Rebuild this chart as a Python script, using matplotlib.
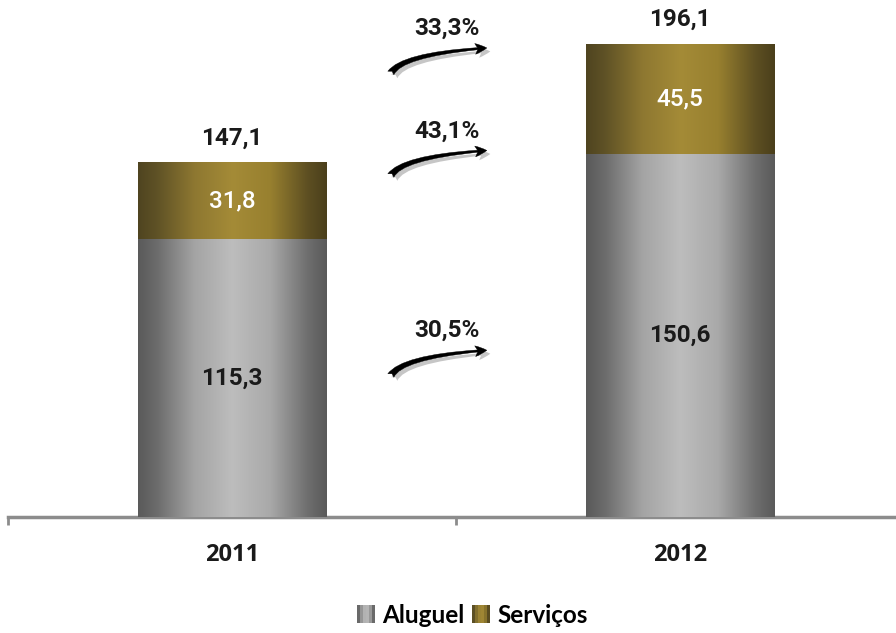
import numpy as np
import matplotlib
matplotlib.use("Agg")
import matplotlib.pyplot as plt
from matplotlib.patches import FancyArrowPatch, Rectangle
from matplotlib.legend_handler import HandlerBase
from matplotlib.colors import LinearSegmentedColormap
import matplotlib.patheffects as pe

# --- data -------------------------------------------------------------
years = ["2011", "2012"]
aluguel = [115.3, 150.6]
servicos = [31.8, 45.5]
totals = [147.1, 196.1]
series_names = ["Aluguel", "Serviços"]

# growth 2011 -> 2012: (label, arrow start y, arrow end y)
growth_labels = ["30,5%", "43,1%", "33,3%"]
growth_arrow_y = [(57.6, 69.2), (140.5, 152.0), (183.0, 194.5)]

def br(v):
    return f"{v:.1f}".replace(".", ",")

# --- colours: cylinder-like horizontal shading -------------------------
stops = [0.0, 0.1, 0.3, 0.5, 0.7, 0.9, 1.0]
gray_cmap = LinearSegmentedColormap.from_list(
    "gray_cyl", list(zip(stops, ["#5a5a5a", "#6c6c6c", "#a4a4a4", "#bdbdbd",
                                 "#a9a9a9", "#6e6e6e", "#5a5a5a"])))
gold_cmap = LinearSegmentedColormap.from_list(
    "gold_cyl", list(zip(stops, ["#4f4420", "#5f5226", "#8e7831", "#a48b37",
                                 "#98802f", "#5d4f22", "#4a3f1b"])))
grad = np.linspace(0, 1, 256)[np.newaxis, :]

fig = plt.figure(figsize=(8.96, 6.33), dpi=100)
ax = fig.add_axes([8 / 896, 116 / 633, 896 / 896, 517 / 633])

x = np.arange(len(years))
width = 0.42
ymax = 214.3

bars_a = ax.bar(x, aluguel, width, color="#a0a0a0", zorder=2)
bars_s = ax.bar(x, servicos, width, bottom=aluguel, color="#8c7630", zorder=2)

for bars, cmap in ((bars_a, gray_cmap), (bars_s, gold_cmap)):
    for b in bars:
        x0, y0 = b.get_x(), b.get_y()
        im = ax.imshow(grad, cmap=cmap, aspect="auto",
                       extent=(x0, x0 + b.get_width(), y0, y0 + b.get_height()),
                       zorder=3, interpolation="bicubic")
        im.set_clip_path(b)

num_font = "Roboto"
fs = 17.5
for i in range(len(years)):
    ax.text(x[i], aluguel[i] / 2, br(aluguel[i]), ha="center", va="center",
            fontsize=fs, fontweight="bold", color="#1a1a1a", family=num_font, zorder=5)
    ax.text(x[i], aluguel[i] + servicos[i] / 2, br(servicos[i]), ha="center",
            va="center", fontsize=fs, fontweight="medium", color="white",
            family=num_font, zorder=5)
    ax.annotate(br(totals[i]), (x[i], totals[i]), xytext=(0, 17.5),
                textcoords="offset points", ha="center", va="center",
                fontsize=fs, fontweight="bold", color="#1a1a1a", family=num_font)

# growth arrows between the two years: steep start, flat finish
x_start, x_end = 0.352, 0.575
for lab, (ys, ye) in zip(growth_labels, growth_arrow_y):
    arr = FancyArrowPatch((x_start, ys), (x_end, ye),
                          connectionstyle="angle3,angleA=72,angleB=4",
                          arrowstyle="fancy,head_length=0.6,head_width=0.55,tail_width=0.36",
                          mutation_scale=14, color="black", lw=0.3, zorder=6,
                          path_effects=[pe.withSimplePatchShadow(offset=(2.5, -2.5),
                                                                 shadow_rgbFace="#a0a0a0",
                                                                 alpha=0.6)])
    ax.add_patch(arr)
    ax.annotate(lab, ((x_start + x_end) / 2, ye), xytext=(5, 14),
                textcoords="offset points", ha="center", va="center",
                fontsize=fs, fontweight="bold", color="#1a1a1a", family=num_font)

# axes styling
ax.set_xlim(-0.5, 1.5)
ax.set_ylim(0, ymax)
for s in ("top", "right", "left"):
    ax.spines[s].set_visible(False)
ax.spines["bottom"].set_color("#8c8c8c")
ax.spines["bottom"].set_linewidth(2.5)
ax.set_yticks([])
ax.set_xticks(x)
ax.set_xticklabels(years, fontsize=17, fontweight="bold", family="Open Sans",
                   color="#1a1a1a")
ax.tick_params(axis="x", which="major", length=0, pad=19)
ax.set_xticks([-0.5, 0.5, 1.5], minor=True)
ax.tick_params(axis="x", which="minor", length=6, width=2, color="#8c8c8c")
ax.patch.set_alpha(0)


class GradientHandler(HandlerBase):
    def __init__(self, cmap):
        super().__init__()
        self.cmap = cmap

    def create_artists(self, legend, orig_handle, xdescent, ydescent,
                       width, height, fontsize, trans):
        n = 6
        side = min(width, height)
        x0 = -xdescent + (width - side) / 2
        y0 = -ydescent + (height - side) / 2
        arts = []
        for k in range(n):
            c = self.cmap((k + 0.5) / n)
            arts.append(Rectangle((x0 + k * side / n, y0), side / n, side,
                                  facecolor=c, edgecolor="none", transform=trans))
        return arts


h1 = Rectangle((0, 0), 1, 1)
h2 = Rectangle((0, 0), 1, 1)
fig.legend([h1, h2], series_names, loc="center", bbox_to_anchor=(0.527, 0.028),
           ncol=2, frameon=False, handlelength=0.75, handleheight=0.75,
           handletextpad=0.3, columnspacing=0.3,
           prop={"family": "Lato", "weight": "bold", "size": 17.5},
           handler_map={h1: GradientHandler(gray_cmap), h2: GradientHandler(gold_cmap)})

fig.savefig("out.png", dpi=100)
